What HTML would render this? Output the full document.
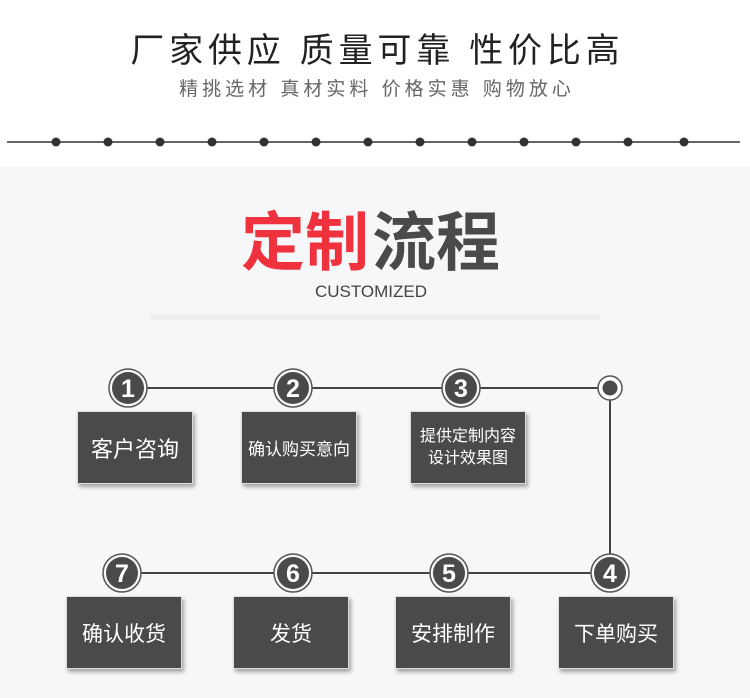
<!DOCTYPE html>
<html><head><meta charset="utf-8"><style>
body{margin:0;width:750px;height:698px;overflow:hidden;background:#fff;font-family:"Liberation Sans","Noto Sans CJK SC",sans-serif;position:relative}
.a{position:absolute}
.box{position:absolute;width:116px;height:73px;background:#4a4a4a;color:#fff;display:flex;align-items:center;justify-content:center;text-align:center;box-shadow:2px 3px 4px rgba(0,0,0,.35);border:1px solid #ddd;box-sizing:border-box}
</style></head><body>
<div class="a" style="left:0;top:23px;width:750px;text-align:center;font-size:34px;color:#222;letter-spacing:4.8px;text-indent:4.8px">厂家供应 质量可靠 性价比高</div>
<div class="a" style="left:0;top:74px;width:750px;text-align:center;font-size:19px;color:#666;letter-spacing:4px;text-indent:4px">精挑选材 真材实料 价格实惠 购物放心</div>
<div class="a" style="left:0;top:167px;width:750px;height:531px;background:#f6f7f9"></div>
<svg class="a" style="left:0;top:0" width="750" height="698">
<line x1="7" y1="142" x2="740" y2="142" stroke="#333" stroke-width="1.5"/>
<g fill="#333">
<circle cx="56" cy="142" r="4.5"/><circle cx="108" cy="142" r="4.5"/><circle cx="160" cy="142" r="4.5"/><circle cx="212" cy="142" r="4.5"/><circle cx="264" cy="142" r="4.5"/><circle cx="316" cy="142" r="4.5"/><circle cx="368" cy="142" r="4.5"/><circle cx="420" cy="142" r="4.5"/><circle cx="472" cy="142" r="4.5"/><circle cx="524" cy="142" r="4.5"/><circle cx="576" cy="142" r="4.5"/><circle cx="628" cy="142" r="4.5"/><circle cx="684" cy="142" r="4.5"/>
</g>
<text x="305" y="265" font-size="64" font-weight="bold" fill="#f0323f" text-anchor="middle" font-family="Noto Sans CJK SC,sans-serif">定制</text>
<text x="436" y="265" font-size="64" font-weight="bold" fill="#4a4a4a" text-anchor="middle" font-family="Noto Sans CJK SC,sans-serif">流程</text>
<text x="371" y="297" font-size="17" fill="#444" text-anchor="middle" font-family="Liberation Sans,sans-serif">CUSTOMIZED</text>
<rect x="150" y="314" width="450" height="6" fill="#eceef0"/>
<g stroke="#444" stroke-width="2" fill="none">
<polyline points="128,388 610,388 610,573 122,573"/>
</g>
<g font-family="Liberation Sans,sans-serif" font-weight="bold" font-size="25" fill="#fff" text-anchor="middle">
<g><circle cx="128" cy="388" r="19" fill="#f6f7f9" stroke="#555" stroke-width="1.5"/><circle cx="128" cy="388" r="16" fill="#4a4a4a"/><text x="128" y="397">1</text></g>
<g><circle cx="293" cy="388" r="19" fill="#f6f7f9" stroke="#555" stroke-width="1.5"/><circle cx="293" cy="388" r="16" fill="#4a4a4a"/><text x="293" y="397">2</text></g>
<g><circle cx="461" cy="388" r="19" fill="#f6f7f9" stroke="#555" stroke-width="1.5"/><circle cx="461" cy="388" r="16" fill="#4a4a4a"/><text x="461" y="397">3</text></g>
<g><circle cx="610" cy="388" r="12" fill="#fff" stroke="#555" stroke-width="1.5"/><circle cx="610" cy="388" r="7.5" fill="#4a4a4a"/></g>
<g><circle cx="610" cy="573" r="19" fill="#f6f7f9" stroke="#555" stroke-width="1.5"/><circle cx="610" cy="573" r="16" fill="#4a4a4a"/><text x="610" y="582">4</text></g>
<g><circle cx="449" cy="573" r="19" fill="#f6f7f9" stroke="#555" stroke-width="1.5"/><circle cx="449" cy="573" r="16" fill="#4a4a4a"/><text x="449" y="582">5</text></g>
<g><circle cx="293" cy="573" r="19" fill="#f6f7f9" stroke="#555" stroke-width="1.5"/><circle cx="293" cy="573" r="16" fill="#4a4a4a"/><text x="293" y="582">6</text></g>
<g><circle cx="122" cy="573" r="19" fill="#f6f7f9" stroke="#555" stroke-width="1.5"/><circle cx="122" cy="573" r="16" fill="#4a4a4a"/><text x="122" y="582">7</text></g>
</g>
</svg>
<div class="box" style="left:77px;top:411px;font-size:22px">客户咨询</div>
<div class="box" style="left:241px;top:411px;font-size:17px">确认购买意向</div>
<div class="box" style="left:410px;top:411px;font-size:16px;line-height:22px">提供定制内容<br>设计效果图</div>
<div class="box" style="left:66px;top:596px;font-size:21px">确认收货</div>
<div class="box" style="left:233px;top:596px;font-size:21px">发货</div>
<div class="box" style="left:395px;top:596px;font-size:21px">安排制作</div>
<div class="box" style="left:558px;top:596px;font-size:21px">下单购买</div>
</body></html>
